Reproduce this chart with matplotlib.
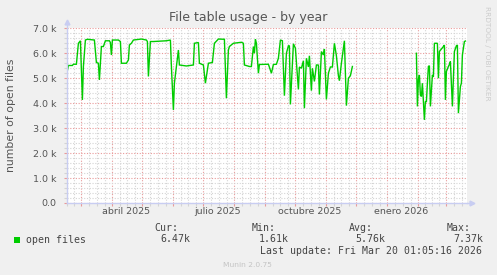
#!/usr/bin/env python
# Munin style "file table usage - by year" graph

import datetime as dt
import numpy as np
import matplotlib
matplotlib.use("Agg")
from matplotlib import pyplot as plt
from matplotlib.ticker import FixedLocator, FuncFormatter

# x = days counted from 1 March 2025, y = open files
seg1_days = [-14, -13, -9, -8, -5, -3, -1, 1, 2, 4, 6, 13, 15, 17, 18, 20, 22, 24, 28,
             29, 30, 31, 37, 39, 40, 45, 47, 48, 50, 52, 60, 65, 66, 67, 69, 72, 85,
             89, 90, 92, 93, 97, 98, 105, 112, 113, 117, 118, 122, 124, 127, 131, 133,
             137, 143, 145, 147, 148, 152, 160, 162, 163, 168, 170, 172, 173, 174, 175,
             177, 178, 187, 190, 192, 195, 197, 199, 201, 203, 205, 207, 208, 209, 212,
             214, 217, 218, 220, 222, 223, 225, 227, 228, 230, 231, 233, 235, 237, 238,
             240, 242, 243, 245, 247, 249, 251, 253, 255, 257, 258, 260, 263, 265, 267,
             269, 271]
seg1_vals = [5310, 5510, 5510, 5560, 5560, 6400, 6500, 4130, 5470, 6530, 6560, 6530, 5630,
             5600, 4930, 6270, 6270, 6500, 6500, 6430, 5930, 6530, 6530, 6470, 5600, 5600,
             5730, 6330, 6400, 6530, 6570, 6530, 6470, 5070, 6470, 6470, 6500, 6530, 5470,
             3730, 4800, 6130, 5530, 5490, 5530, 6400, 6430, 5600, 5530, 4800, 5600, 5630,
             6400, 6570, 6560, 4200, 6130, 6270, 6400, 6440, 6400, 5530, 5470, 5470, 6270,
             6000, 6560, 6400, 5200, 5550, 5560, 5200, 5550, 5560, 5800, 6530, 6500, 4300,
             6000, 6300, 6300, 3950, 6380, 6200, 4550, 5450, 5400, 5700, 3800, 5800, 5450,
             5900, 4500, 5400, 4870, 5530, 5530, 4350, 6070, 5930, 6170, 4150, 5200, 5450,
             5450, 6400, 5900, 5100, 4900, 5600, 6500, 3900, 5000, 5100, 5470]

seg2_days = [335, 336, 337, 338, 339, 340, 341, 343, 344, 345, 346, 347, 348, 349, 351,
             352, 353, 356, 357, 358, 360, 362, 363, 364, 365, 367, 368, 369, 371, 372,
             373, 375, 376, 377, 379, 380, 381, 383, 384]
seg2_vals = [6000, 3870, 4950, 5130, 4330, 4270, 4800, 3330, 4070, 4050, 4800, 5470, 5500,
             3870, 5130, 5050, 6400, 6400, 5000, 6070, 6170, 6270, 6330, 4130, 5270, 5470,
             5550, 5670, 3870, 5000, 6070, 6300, 6330, 3600, 4670, 4800, 5930, 6470, 6490]

label_months = [(2025, 4), (2025, 7), (2025, 10), (2026, 1)]
month_labels = ["abril 2025", "julio 2025", "octubre 2025", "enero 2026"]

legend_name = "open files"
stat_heads = ["Cur:", "Min:", "Avg:", "Max:"]
stat_vals = ["6.47k", "1.61k", "5.76k", "7.37k"]
last_update = "Last update: Fri Mar 20 01:05:16 2026"

W, H = 497, 275
BACK = "#f0f0f0"
LINE = "#00cc00"
FONT = "#555555"
MGRID = "#e99a9a"
GRID = "#d4d4d4"
AXIS = "#c8cdf2"

base = dt.date(2025, 3, 1)


def day_of(y, m, d=1):
    return (dt.date(y, m, d) - base).days


def px(x, y):
    # pixel position -> figure fraction
    return x / W, 1 - y / H


# month starts and quarter-month minor lines
major_x = []
minor_x = []
for y, m in [(2025, mm) for mm in range(1, 13)] + [(2026, mm) for mm in range(1, 5)]:
    start = day_of(y, m)
    nxt = day_of(y + (m == 12), m % 12 + 1)
    major_x.append(start)
    for k in (1, 2, 3):
        minor_x.append(start + k * (nxt - start) / 4)

fig = plt.figure(figsize=(W / 100, H / 100), dpi=100, facecolor=BACK)
ax = fig.add_axes([66.7 / W, 1 - 203 / H, 400 / W, 174.7 / H])
ax.set_facecolor("white")

ax.plot(seg1_days, seg1_vals, color=LINE, lw=1.0, solid_joinstyle="miter")
ax.plot(seg2_days, seg2_vals, color=LINE, lw=1.0, solid_joinstyle="miter")

ax.set_xlim(-14.7, 385.3)
ax.set_ylim(0, 7000)

ax.xaxis.set_major_locator(FixedLocator(major_x))
ax.xaxis.set_minor_locator(FixedLocator(minor_x))
ax.yaxis.set_major_locator(FixedLocator(np.arange(0, 7001, 1000)))
ax.yaxis.set_minor_locator(FixedLocator([v for v in range(200, 7000, 200) if v % 1000]))
ax.xaxis.set_major_formatter(FuncFormatter(lambda v, p: ""))
ax.yaxis.set_major_formatter(FuncFormatter(lambda v, p: "0.0" if v == 0 else "%.1f k" % (v / 1000)))

ax.grid(which="major", color=MGRID, lw=0.8, ls=(0, (1, 1.5)))
ax.grid(which="minor", color=GRID, lw=0.8, ls=(0, (1, 1.5)))
ax.set_axisbelow(True)

ax.tick_params(which="major", length=2.5, width=0.8, color=MGRID, labelsize=6.8,
               labelcolor=FONT, pad=5)
ax.tick_params(which="minor", length=2.5, width=0.8, color=GRID)

for s in ["top", "right"]:
    ax.spines[s].set_visible(False)
for s in ["left", "bottom"]:
    ax.spines[s].set_color(AXIS)
    ax.spines[s].set_linewidth(1.0)

# axis arrows
ax.plot([0, 0], [1, 1.03], color=AXIS, lw=1, transform=ax.transAxes, clip_on=False)
ax.plot([1, 1.012], [0, 0], color=AXIS, lw=1, transform=ax.transAxes, clip_on=False)
ax.plot(0, 1.035, marker="^", ms=3.5, color=AXIS, transform=ax.transAxes, clip_on=False)
ax.plot(1.013, 0, marker=">", ms=3.5, color=AXIS, transform=ax.transAxes, clip_on=False)

# month labels sit in the middle of their month
for (y, m), lab in zip(label_months, month_labels):
    ax.annotate(lab, xy=(day_of(y, m, 15), 0), xycoords=("data", "axes fraction"),
                xytext=(0, -9), textcoords="offset pixels", ha="center", va="center",
                fontsize=6.8, color=FONT)

fig.text(*px(248.5, 18), "File table usage - by year", ha="center", va="center",
         fontsize=9.0, color=FONT)
fig.text(*px(11, 115), "number of open files", rotation=90, ha="center", va="center",
         fontsize=7.8, color=FONT)
fig.text(*px(487.5, 53), "RRDTOOL / TOBI OETIKER", rotation=270, ha="center", va="center",
         fontsize=5.3, color="#cccccc")

# legend block
mono = "DejaVu Sans Mono"
sq = fig.add_axes([14 / W, 1 - 243 / H, 6 / W, 6 / H])
sq.set_facecolor(LINE)
sq.set_xticks([])
sq.set_yticks([])
for s in sq.spines.values():
    s.set_visible(False)
fig.text(*px(26.3, 242.7), legend_name, family=mono, fontsize=7.1, color="#444444", va="baseline")
for hx, vx, h, v in zip([154.3, 251.7, 349.3, 446.7], [160, 258.3, 355, 453.3], stat_heads, stat_vals):
    fig.text(*px(hx, 230.7), h, family=mono, fontsize=7.1, color="#444444", va="baseline")
    fig.text(*px(vx, 242.5), v, family=mono, fontsize=7.1, color="#444444", va="baseline")
fig.text(*px(482.5, 254.3), last_update, family=mono, fontsize=7.1, color="#444444",
         va="baseline", ha="right")
fig.text(*px(247.3, 266.7), "Munin 2.0.75", fontsize=5.4, color="#c4c4c4", va="baseline",
         ha="center")

fig.savefig("out.png", dpi=100, facecolor=BACK)
